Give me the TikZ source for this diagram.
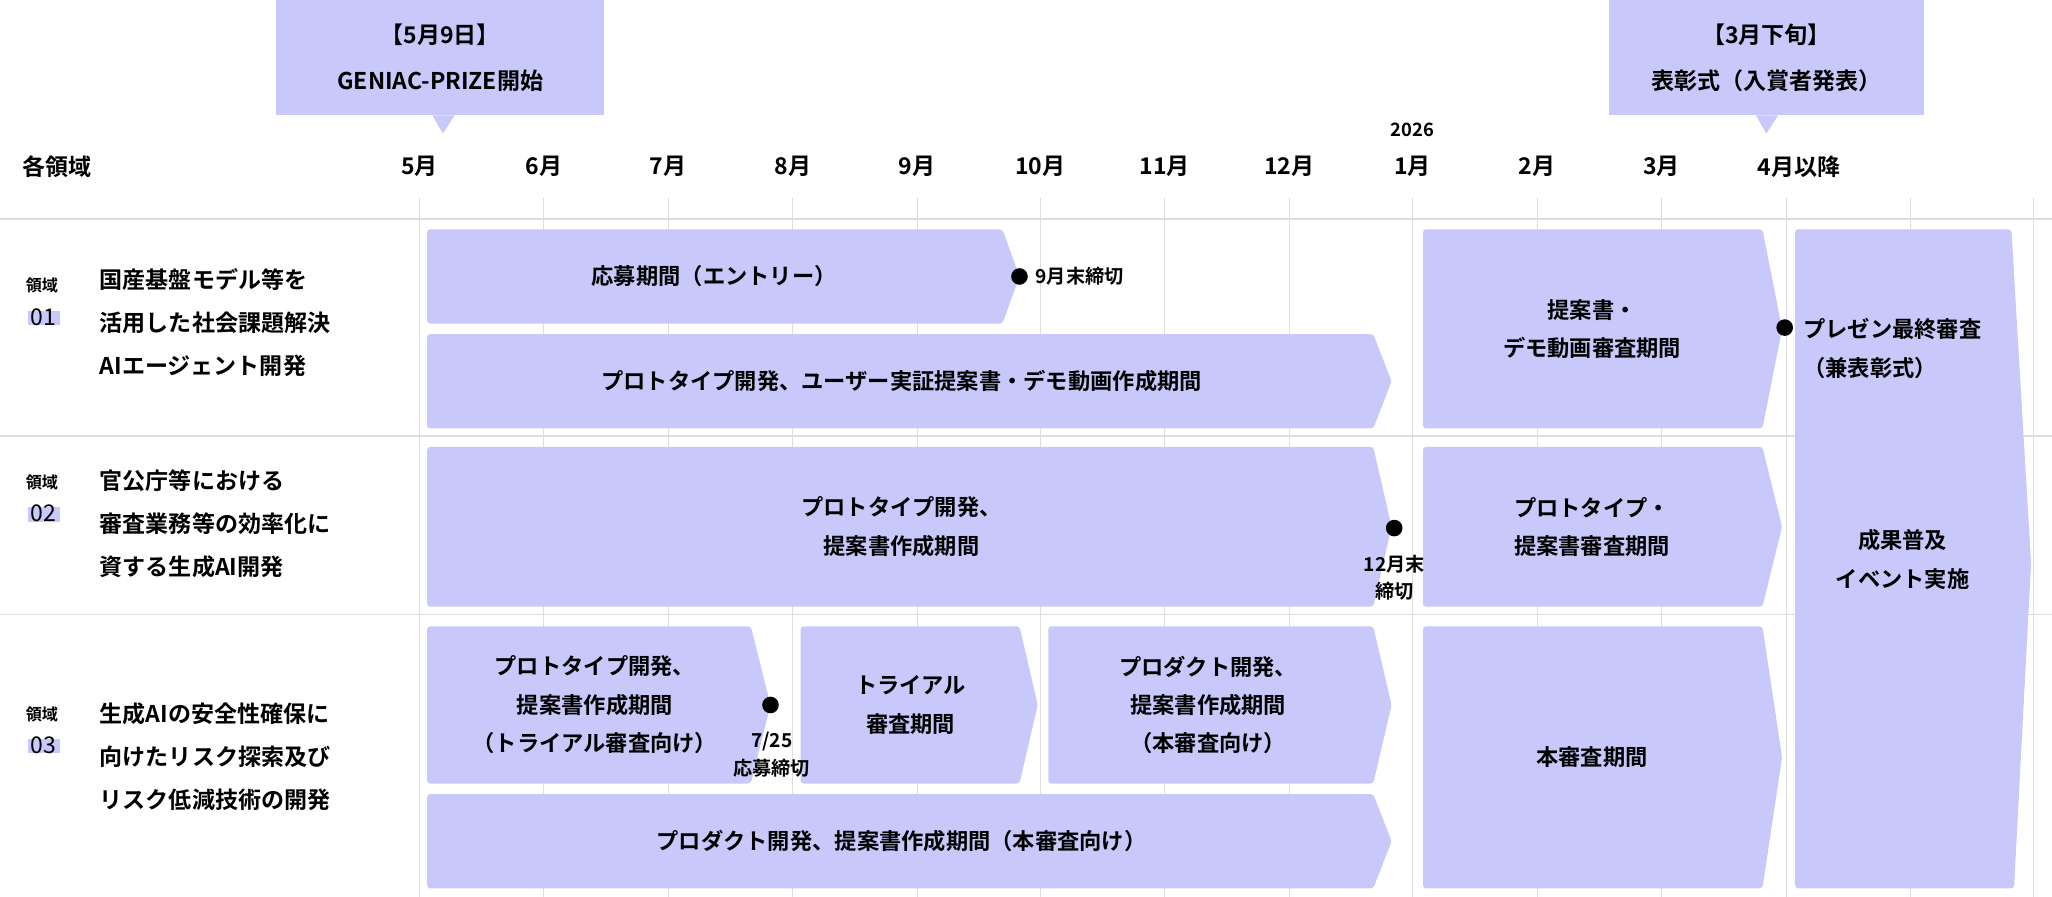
\documentclass[tikz,border=0pt]{standalone}
\usepackage{fontspec}
\setmainfont{Noto Sans CJK JP}[BoldFont={Noto Sans CJK JP Bold}]
\definecolor{lav}{HTML}{C8C8FA}
\definecolor{gridc}{HTML}{DDDDDD}
\tikzset{
 bartext/.style={font=\bfseries\fontsize{14.5}{25}\selectfont, align=center, inner sep=0pt},
 mon/.style={font=\bfseries\fontsize{15}{18}\selectfont, inner sep=0pt},
 small/.style={font=\bfseries\fontsize{10.5}{13}\selectfont, inner sep=0pt},
 rowtext/.style={font=\bfseries\fontsize{15}{28}\selectfont, align=left, anchor=north west, inner sep=0pt},
 dotmark/.style={circle, fill=black, inner sep=0pt, minimum size=0.38cm},
}
\newcommand{\arrbar}[5]{\fill[lav, rounded corners=2pt] (#1,#3) -- (#2,#3) -- (#5,{(#3+#4)/2}) -- (#2,#4) -- (#1,#4) -- cycle;}
\begin{document}
\begin{tikzpicture}[x=0.03cm,y=-0.03cm]
\useasboundingbox (0,0) rectangle (1566,684);
% grid
\foreach \x in {320,415,510,605,700,794,889,984,1078,1173,1268,1363,1458,1552}
  \draw[gridc, line width=0.6pt] (\x,151) -- (\x,686);
\foreach \y in {167,333,469}
  \draw[gridc, line width=1.2pt] (0,\y) -- (1566,\y);
% callouts
\fill[lav] (211,0) rectangle (461,88);
\fill[lav] (330,88) -- (347,88) -- (338,102) -- cycle;
\node[mon, align=center, font=\bfseries\fontsize{15}{30}\selectfont] (c1) at (336,44) {【5月9日】\\GENIAC-PRIZE開始};
\fill[lav] (1228,0) rectangle (1468,88);
\fill[lav] (1340,88) -- (1357,88) -- (1348,102) -- cycle;
\node[mon, align=center, font=\bfseries\fontsize{15}{30}\selectfont] (c2) at (1348,44) {【3月下旬】\\表彰式（入賞者発表）};
% header
\node[mon, anchor=west] (h) at (17,127) {各領域};
\foreach \x/\t [count=\i] in {320/5月,415/6月,510/7月,605/8月,700/9月,794/10月,889/11月,984/12月,1078/1月,1173/2月,1268/3月}
  \node[mon] (m\i) at (\x,127) {\t};
\node[mon, anchor=west] (m12) at (1341,127) {4月以降};
\node[small, font=\bfseries\fontsize{12}{14}\selectfont] (yr) at (1078,99) {2026};
% row labels
\foreach \y/\n in {218/01,368/02,545/03}{
  \node[small] at (32,\y) {領域};
  \fill[lav] (21,\y+19) rectangle (46,\y+30);
  \node[mon, font=\fontsize{15}{18}\selectfont] at (33,\y+24) {\n};
}
\node[rowtext] (r1) at (76,205) {国産基盤モデル等を\\活用した社会課題解決\\AIエージェント開発};
\node[rowtext] (r2) at (76,358) {官公庁等における\\審査業務等の効率化に\\資する生成AI開発};
\node[rowtext] (r3) at (76,536) {生成AIの安全性確保に\\向けたリスク探索及び\\リスク低減技術の開発};
% bars
\arrbar{326}{765}{175}{247}{778}
\arrbar{326}{1048}{255}{327}{1062}
\arrbar{1086}{1345}{175}{327}{1360}
\fill[lav, rounded corners=2pt] (1370,175) -- (1535,175) -- (1550,430) -- (1537,678) -- (1370,678) -- cycle;
\arrbar{326}{1048}{341}{463}{1062}
\arrbar{1086}{1345}{341}{463}{1360}
\arrbar{326}{573}{478}{598}{588}
\arrbar{611}{778}{478}{598}{792}
\arrbar{800}{1048}{478}{598}{1062}
\arrbar{326}{1048}{606}{678}{1062}
\arrbar{1086}{1345}{478}{678}{1360}
% bar texts
\node[bartext] (t1) at (545,211) {応募期間（エントリー）};
\node[bartext] (t2) at (688,291) {プロトタイプ開発、ユーザー実証提案書・デモ動画作成期間};
\node[bartext] (t3) at (1215,251) {提案書・\\デモ動画審査期間};
\node[bartext] (t4) at (1452,427) {成果普及\\イベント実施};
\node[bartext] (t5) at (688,402) {プロトタイプ開発、\\提案書作成期間};
\node[bartext] (t6) at (1215,402) {プロトタイプ・\\提案書審査期間};
\node[bartext] (t7) at (454,538) {プロトタイプ開発、\\提案書作成期間\\（トライアル審査向け）};
\node[bartext] (t8) at (695,538) {トライアル\\審査期間};
\node[bartext] (t9) at (922,538) {プロダクト開発、\\提案書作成期間\\（本審査向け）};
\node[bartext] (t10) at (688,642) {プロダクト開発、提案書作成期間（本審査向け）};
\node[bartext] (t11) at (1215,578) {本審査期間};
% milestones
\node[dotmark] (d1) at (778,211) {};
\node[small, font=\bfseries\fontsize{12.5}{15}\selectfont, anchor=west] (l1) at (790,211) {9月末締切};
\node[dotmark] (d2) at (1362,250) {};
\node[bartext, align=left, anchor=west] (l2) at (1376,266) {プレゼン最終審査\\（兼表彰式）};
\node[dotmark] (d3) at (1064,403) {};
\node[small, font=\bfseries\fontsize{12.5}{18}\selectfont, align=center] (l3) at (1064,441) {12月末\\締切};
\node[dotmark] (d4) at (588,538) {};
\node[small, font=\bfseries\fontsize{12.5}{18}\selectfont, align=center] (l4) at (589,576) {7/25\\応募締切};
\end{tikzpicture}
\end{document}
